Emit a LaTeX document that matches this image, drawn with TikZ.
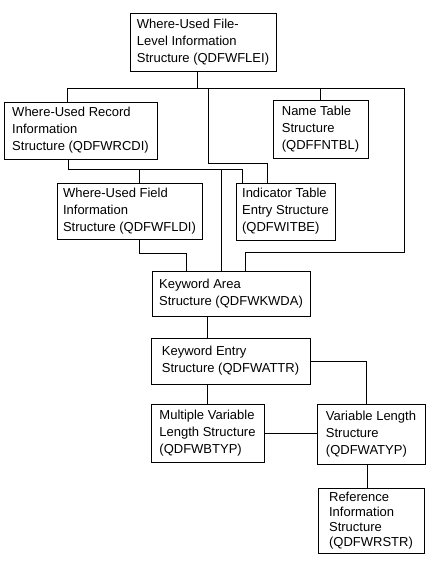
\documentclass[tikz,border=0pt]{standalone}
\usepackage{fontspec}
\setmainfont{Liberation Sans}
\usetikzlibrary{positioning}
\begin{document}
\begin{tikzpicture}[x = 1pt, y = -1pt, line width = 0.8pt, every text node part/.style = {align = left}, box/.style = {draw, rectangle, inner xsep = 0pt, inner ysep = 0pt, font = \fontsize{13}{17}\selectfont}]
	\useasboundingbox (0,0) rectangle (432,576);
	\node[box, minimum width = 146pt, minimum height = 58pt] (flei) at (203,42) {Where-Used File-\\Level Information\\Structure (QDFWFLEI)};
	\node[box, minimum width = 153pt, minimum height = 57pt] (rcdi) at (80.5,130.5) {Where-Used Record\\Information\\Structure (QDFWRCDI)};
	\node[box, minimum width = 95pt, minimum height = 58pt] (ntbl) at (320.5,129) {Name Table\\Structure\\(QDFFNTBL)};
	\node[box, minimum width = 145pt, minimum height = 56pt] (fldi) at (129.5,211) {Where-Used Field\\Information\\Structure (QDFWFLDI)};
	\node[box, minimum width = 99pt, minimum height = 57pt] (itbe) at (285.5,211.5) {Indicator Table\\Entry Structure\\(QDFWITBE)};
	\node[box, minimum width = 158pt, minimum height = 45pt] (kwda) at (231,293.5) {Keyword Area\\Structure (QDFWKWDA)};
	\node[box, minimum width = 159pt, minimum height = 46pt] (attr) at (230.5,361) {Keyword Entry\\Structure (QDFWATTR)};
	\node[box, minimum width = 113pt, minimum height = 58pt] (btyp) at (207.5,433) {Multiple Variable\\Length Structure\\(QDFWBTYP)};
	\node[box, minimum width = 108pt, minimum height = 60pt] (atyp) at (371,434) {Variable Length\\Structure\\(QDFWATYP)};
	\node[box, minimum width = 106pt, minimum height = 65pt, font = \fontsize{13}{15}\selectfont] (rstr) at (371,520.5) {Reference\\Information\\Structure\\(QDFWRSTR)};
	\draw ([xshift = -6pt]flei.south) -- ++(0,17) coordinate (j1);
	\draw (j1) -| ([xshift = -13.5pt]rcdi.north);
	\draw (j1) -| (ntbl.north);
	\draw (j1) ++(11,0) -- ++(0,75) -| ([xshift = -18.5pt]itbe.north);
	\draw (j1) -- ++(207,0) -- ++(0,164) -| ([xshift = 14pt]kwda.north);
	\draw ([xshift = -12.5pt]rcdi.south) -- ++(0,10) coordinate (j2);
	\draw (j2) -| ([xshift = -43.5pt]itbe.north);
	\draw (j2) -| ([xshift = 9.5pt]fldi.north);
	\draw (j2) -| ([xshift = -10pt]kwda.north);
	\draw ([xshift = 9.5pt]fldi.south) -- ++(0,14) -| ([xshift = -45pt]kwda.north);
	\draw ([xshift = -24pt]kwda.south) -- ([xshift = -23.5pt]attr.north);
	\draw (btyp.north) -- (btyp.north |- attr.south);
	\draw (attr.east) -| ([xshift = -5pt]atyp.north);
	\draw (btyp.east) -- (btyp.east -| atyp.west);
	\draw ([xshift = -4pt]atyp.south) -- ([xshift = -4pt]rstr.north);
\end{tikzpicture}
\end{document}
